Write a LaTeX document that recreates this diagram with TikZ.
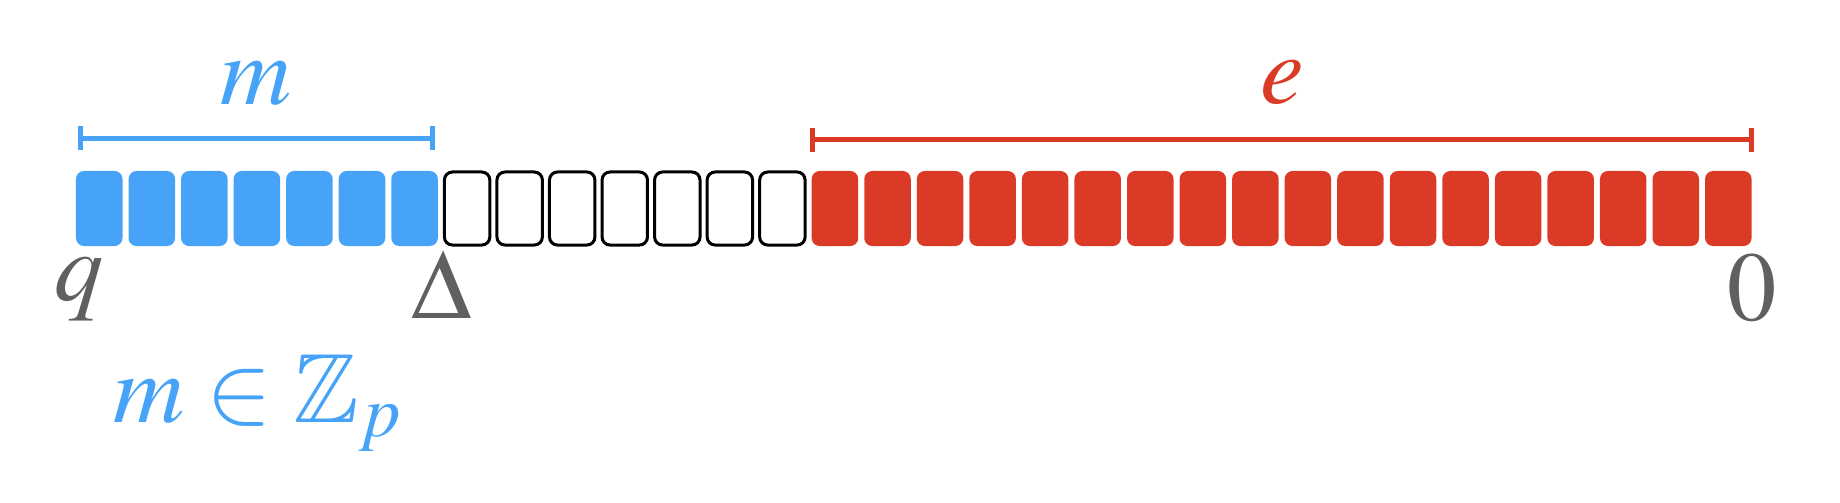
\documentclass[tikz,border=0pt]{standalone}
\usepackage{amssymb}
\usepackage{mathptmx}
\usepackage{tikz}
\usetikzlibrary{arrows.meta}
\definecolor{msgblue}{RGB}{70,163,247}
\definecolor{errred}{RGB}{219,59,38}
\definecolor{dark}{RGB}{96,96,96}
\tikzset{
    cell/.style={rectangle, rounded corners=0.08cm, minimum width=0.465cm, minimum height=0.75cm, inner sep=0pt},
    msgcell/.style={cell, fill=msgblue},
    freecell/.style={cell, draw=black, line width=0.03cm, minimum width=0.454cm, minimum height=0.73cm},
    errcell/.style={cell, fill=errred},
    dimbar/.style={line width=0.05cm, {Bar[width=0.24cm]}-{Bar[width=0.24cm]}},
    lbl/.style={font=\fontsize{28}{33}\selectfont, inner sep=0pt, anchor=base}
}

\begin{document}
\begin{tikzpicture}[x=0.01cm, y=-0.01cm]
    \useasboundingbox (0,0) rectangle (1840,502);

    % Cells: message, free space, error
    \foreach \i in {0,...,6}
        \node[msgcell] (c\i) at ({99.25+52.55*\i},208.5) {};
    \foreach \i in {7,...,13}
        \node[freecell] (c\i) at ({99.25+52.55*\i},208.5) {};
    \foreach \i in {14,...,31}
        \node[errcell] (c\i) at ({99.25+52.55*\i},208.5) {};

    % Spans
    \coordinate (mL) at (77.5,138);
    \coordinate (mR) at (434.5,138);
    \coordinate (eL) at (810,139.5);
    \coordinate (eR) at (1753.5,139.5);
    \draw[dimbar, msgblue] (mL) -- (mR);
    \draw[dimbar, errred] (eL) -- (eR);

    % Labels
    \node[lbl, msgblue] (mtop) at (256,104) {$m$};
    \node[lbl, errred] (etop) at (1282,103) {$e$};
    \node[lbl, dark] (q) at (79,300) {$q$};
    \node[lbl, dark] (delta) at (442,318) {$\Delta$};
    \node[lbl, dark] (zero) at (1752,320) {$0$};
    \node[lbl, msgblue] (space) at (258,422) {$m \in \mathbb{Z}_p$};
\end{tikzpicture}
\end{document}
